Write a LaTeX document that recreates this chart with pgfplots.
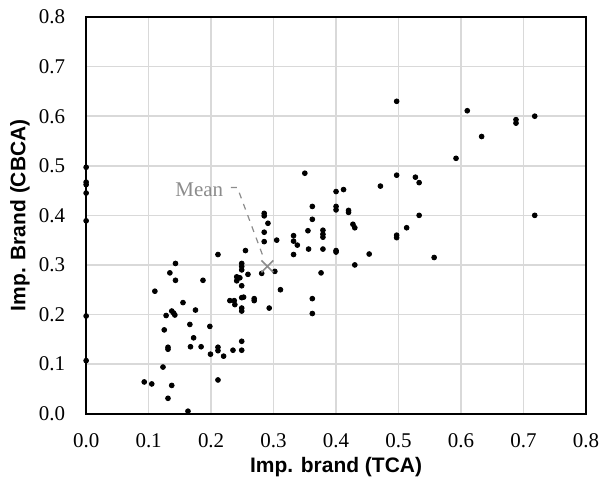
\documentclass[border=0pt]{standalone}
\usepackage{fontspec}
\setmainfont{Liberation Serif}
\newfontfamily\arialfont{Liberation Sans}
\usepackage{pgfplots}
\pgfplotsset{compat=1.18}
\definecolor{gridgray}{HTML}{D9D9D9}
\definecolor{meangray}{HTML}{8C8C8C}
\begin{document}
\begin{tikzpicture}
\begin{axis}[
  name=main,
  width=249.5bp, height=198bp, scale only axis,
  xmin=0, xmax=0.8, ymin=0, ymax=0.8,
  xtick={0,0.1,0.2,0.3,0.4,0.5,0.6,0.7,0.8},
  ytick={0,0.1,0.2,0.3,0.4,0.5,0.6,0.7,0.8},
  grid=major,
  major grid style={draw=gridgray, line width=0.75bp},
  axis line style={black, line width=1bp},
  major tick length=0pt,
  tick label style={font=\fontsize{10.5}{12}\selectfont},
  /pgf/number format/assume math mode=true,
  /pgf/number format/fixed, /pgf/number format/precision=1, /pgf/number format/fixed zerofill,
  xticklabel style={yshift=-6.5bp},
  yticklabel style={xshift=-7bp},
  xlabel={\arialfont\bfseries\fontsize{10.5}{12}\selectfont Imp. brand (TCA)},
  ylabel={\arialfont\bfseries\fontsize{10.5}{12}\selectfont Imp. Brand (CBCA)},
  xlabel style={at={(axis description cs:0.5,-0.1338)}, anchor=center},
  ylabel style={at={(axis description cs:-0.1323,0.5)}, anchor=center},
  clip=false,
]
\addplot[only marks, mark=*, mark size=1.2bp, black] coordinates {
(0,0.497) (0,0.467) (0,0.462) (0,0.445) (0,0.389) (0,0.197) (0,0.107)
(0.093,0.064) (0.105,0.060) (0.110,0.247) (0.123,0.094) (0.125,0.169)
(0.128,0.198) (0.131,0.134) (0.131,0.130) (0.131,0.031) (0.134,0.284)
(0.137,0.057) (0.137,0.207) (0.140,0.203) (0.142,0.199) (0.143,0.303)
(0.143,0.269) (0.155,0.224) (0.163,0.005) (0.166,0.180) (0.167,0.135)
(0.172,0.153) (0.175,0.209) (0.184,0.135) (0.187,0.269) (0.198,0.176)
(0.199,0.120) (0.211,0.321) (0.211,0.068) (0.211,0.134) (0.211,0.127)
(0.220,0.116) (0.235,0.128) (0.230,0.228) (0.237,0.228) (0.238,0.220)
(0.241,0.276) (0.241,0.268) (0.249,0.303) (0.249,0.297) (0.249,0.290)
(0.246,0.274) (0.249,0.258) (0.249,0.234) (0.252,0.235) (0.249,0.213)
(0.249,0.207) (0.249,0.146) (0.249,0.128) (0.255,0.329) (0.259,0.281)
(0.269,0.232) (0.269,0.228) (0.285,0.404) (0.285,0.399) (0.285,0.366)
(0.291,0.384) (0.285,0.347) (0.281,0.283) (0.293,0.213) (0.302,0.287)
(0.305,0.350) (0.311,0.250) (0.332,0.359) (0.332,0.348) (0.338,0.340)
(0.332,0.321) (0.350,0.485) (0.355,0.369) (0.356,0.332) (0.362,0.418)
(0.362,0.392) (0.362,0.232) (0.362,0.202) (0.376,0.284) (0.379,0.370)
(0.379,0.362) (0.379,0.356) (0.379,0.332) (0.400,0.448) (0.412,0.452)
(0.400,0.418) (0.400,0.411) (0.400,0.329) (0.400,0.326) (0.420,0.410)
(0.420,0.406) (0.427,0.382) (0.430,0.375) (0.430,0.300) (0.453,0.322)
(0.471,0.459) (0.497,0.630) (0.497,0.481) (0.497,0.360) (0.497,0.355)
(0.513,0.375) (0.527,0.477) (0.533,0.466) (0.533,0.400) (0.557,0.315)
(0.592,0.515) (0.610,0.611) (0.633,0.559) (0.688,0.593) (0.688,0.586)
(0.718,0.600) (0.718,0.400)
};
\addplot[only marks, mark=x, mark size=4.2bp, meangray, mark options={line width=0.8bp}] coordinates {(0.290,0.297)};
\draw[meangray, dashed, line width=0.6bp] (axis cs:0.2316,0.456) -- (axis cs:0.242,0.456) -- (axis cs:0.2853,0.310);
\node[meangray, font=\fontsize{10.5}{12}\selectfont, anchor=east, inner sep=0pt] at (axis cs:0.220,0.4525) {Mean};
\end{axis}
\pgfresetboundingbox
\path ([xshift=-43bp,yshift=8.5bp]main.north west) rectangle ([xshift=10bp,yshift=-38bp]main.south east);
\end{tikzpicture}
\end{document}
